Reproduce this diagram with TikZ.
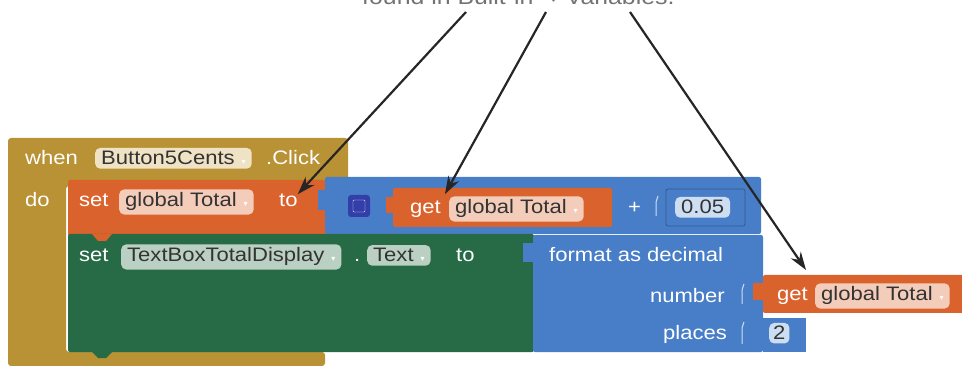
\documentclass[tikz,border=0pt]{standalone}
\usepackage{fontspec}
\setmainfont[FakeStretch=1.13]{Liberation Sans}
\newfontfamily\symfont{DejaVu Sans}
\usetikzlibrary{positioning, calc, arrows.meta}

\newcommand{\blkfont}{\fontsize{19.5}{22}\selectfont}
\newcommand{\dd}[1]{\hspace{7pt}{\color{#1}\symfont\fontsize{8}{8}\selectfont ▾}}

\begin{document}
\begin{tikzpicture}[x=1pt, y=-1pt,
    btxt/.style={text=white, inner sep=0pt, anchor=base west, font=\blkfont},
    pill/.style={rounded corners=5pt, inner xsep=6pt, inner ysep=3.5pt, anchor=base west, text=black!80, font=\blkfont},
    callout/.style={-{Stealth[length=18pt, width=12pt]}, line width=2.2pt, black!85}]

    %my colors
\definecolor{mustard}{RGB}{184, 146, 52}
\definecolor{setorange}{RGB}{218, 98, 44}
\definecolor{mathblue}{RGB}{72, 126, 200}
\definecolor{setgreen}{RGB}{38, 106, 70}
\definecolor{pillmustard}{RGB}{240, 226, 196}
\definecolor{pillorange}{RGB}{244, 204, 186}
\definecolor{pillgreen}{RGB}{186, 208, 194}
\definecolor{pillblue}{RGB}{206, 222, 242}
\definecolor{iconblue}{RGB}{52, 62, 168}

    \useasboundingbox (0,0) rectangle (962,366);

    % Caption, cut at the top edge
    \begin{scope}
        \clip (0,0) rectangle (962,366);
        \node[anchor=base west, text=black!55, font=\fontsize{22}{25}\selectfont, inner sep=0pt] (caption) at (362,5)
            {found in Built-in {\symfont →} Variables.};
    \end{scope}

    % Event block (when ... do)
    \fill[mustard, rounded corners=3pt] (8,138) -- (348,138) -- (348,186) -- (66,186) -- (66,352)
        -- (325,352) -- (325,366) -- (8,366) -- cycle;

    % set global Total block
    \fill[setorange, rounded corners=2pt] (68,180) rectangle (326,236);
    % math block with + operator
    \fill[mathblue, rounded corners=2pt] (325,177) rectangle (761,234);
    \fill[mathblue] (318,190) rectangle (326,210);
    \fill[iconblue, rounded corners=3pt] (348,195) rectangle (370,217);
    \draw[pillblue!70, rounded corners=1pt] (353,200) rectangle (365,212);
    % get global Total (first)
    \fill[setorange, rounded corners=2pt] (393,188) rectangle (612,227);
    \fill[setorange] (386,197) rectangle (394,213);
    % socket for 0.05
    \draw[mathblue!70!black, line width=0.8pt, rounded corners=2pt] (666,189) rectangle (745,226);
    \draw[pillblue, line width=1pt] (658,196) -- (656,202) -- (656,216);

    % set TextBoxTotalDisplay.Text block
    \fill[setgreen, rounded corners=2pt] (68,234) rectangle (534,352);
    \fill[setorange] (92,234) -- (112,234) -- (106,241) -- (98,241) -- cycle;
    \fill[setgreen] (92,352) -- (112,352) -- (106,358) -- (98,358) -- cycle;
    % format as decimal block
    \fill[mathblue, rounded corners=2pt] (533,235) rectangle (763,352);
    \fill[mathblue] (523,243) rectangle (534,262);
    \fill[mathblue] (763,318) rectangle (806,352);
    \draw[pillblue, line width=1pt] (744,284) -- (742,290) -- (742,304);
    \draw[pillblue, line width=1pt] (744,322) -- (742,328) -- (742,344);
    % get global Total (second)
    \fill[setorange, rounded corners=2pt] (763,275) rectangle (975,313);
    \fill[setorange] (753,283) rectangle (764,300);

    % Texts of the event block
    \node[btxt] (when) at (25,165) {when};
    \node[pill, fill=pillmustard] (btn) at (95,165) {Button5Cents\dd{white}};
    \node[btxt] (click) at (266,165) {.Click};
    \node[btxt] (do) at (25,207) {do};

    % Texts of the first set block
    \node[btxt] (setA) at (79,207) {set};
    \node[pill, fill=pillorange] (varA) at (119,207) {global Total\dd{white}};
    \node[btxt] (setto) at (279,207) {to};
    \node[btxt] (getA) at (410,214) {get};
    \node[pill, fill=pillorange] (varB) at (449,214) {global Total\dd{white}};
    \node[btxt] (plus) at (628,214) {+};
    \node[pill, fill=pillblue] (num) at (675,214) {0.05};

    % Texts of the second set block
    \node[btxt] (setB) at (79,262) {set};
    \node[pill, fill=pillgreen] (box) at (121,262) {TextBoxTotalDisplay\dd{white}};
    \node[btxt] (dot) at (354,262) {.};
    \node[pill, fill=pillgreen] (prop) at (367,262) {Text\dd{white}};
    \node[btxt] (settoB) at (456,262) {to};
    \node[btxt] (fmt) at (549,262) {format as decimal};
    \node[btxt, anchor=base east] (number) at (725,302) {number};
    \node[btxt, anchor=base east] (places) at (727,340) {places};
    \node[pill, fill=pillblue, inner xsep=4pt] (two) at (769,340) {2};

    % Texts of the second get block
    \node[btxt] (getB) at (777,301) {get};
    \node[pill, fill=pillorange] (varC) at (815,301) {global Total\dd{white}};

    % Callout arrows from the caption
    \coordinate (src1) at (466,12);
    \coordinate (src2) at (546,12);
    \coordinate (src3) at (630,12);
    \draw[callout] (src1) -- (setto.north east);
    \draw[callout, shorten >=8pt] (src2) -- (getA.north east);
    \draw[callout, shorten >=16pt] (src3) -- (varC.north west);

\end{tikzpicture}
\end{document}
